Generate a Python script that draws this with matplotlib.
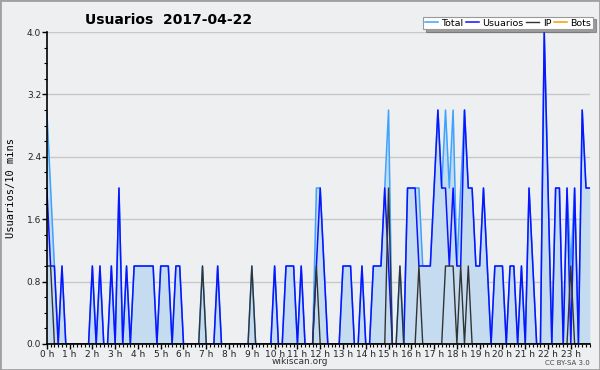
# Usuarios per 10 minutes, 2017-04-22 (wikiscan style chart)
import numpy as np
import matplotlib
matplotlib.use('Agg')
import matplotlib.pyplot as plt
from matplotlib.patches import Rectangle
from matplotlib.ticker import MultipleLocator

# Data: one value per 10 minutes (144 slots)
usuarios = [2, 1, 1, 0, 1, 0, 0, 0, 0, 0, 0, 0,
            1, 0, 1, 0, 0, 1, 0, 2, 0, 1, 0, 1,
            1, 1, 1, 1, 1, 0, 1, 1, 1, 0, 1, 1,
            0, 0, 0, 0, 0, 0, 0, 0, 0, 1, 0, 0,
            0, 0, 0, 0, 0, 0, 0, 0, 0, 0, 0, 0,
            1, 0, 0, 1, 1, 1, 0, 1, 0, 0, 0, 1,
            2, 1, 0, 0, 0, 0, 1, 1, 1, 0, 0, 1,
            0, 0, 1, 1, 1, 2, 1, 0, 0, 0, 0, 2,
            2, 2, 1, 1, 1, 1, 2, 3, 2, 2, 1, 2,
            1, 1, 3, 2, 2, 1, 1, 2, 1, 0, 1, 1,
            1, 0, 1, 1, 0, 1, 0, 2, 1, 0, 0, 4,
            2, 0, 2, 2, 0, 2, 0, 2, 0, 3, 2, 2]

ip = [0] * 144
for k, v in {0: 1, 1: 1, 41: 1, 54: 1, 71: 1, 90: 2, 93: 1, 98: 1,
             105: 1, 106: 1, 107: 1, 109: 1, 111: 1, 138: 1}.items():
    ip[k] = v

bots = [0] * 144

total = [u + p + b for u, p, b in zip(usuarios, ip, bots)]
total[111] = 2

hour_labels = ['%d h' % h for h in range(24)]

# Figure setup
fig = plt.figure(figsize=(6.0, 3.7), dpi=100, facecolor='#eeeff1')
ax = fig.add_axes([0.078, 0.0703, 0.905, 0.843])
ax.set_facecolor('#eeeff1')

x = np.arange(144) / 6.0

ax.fill_between(x, total, 0, color='#c5dcf0', zorder=1, linewidth=0)
ax.plot(x, bots, color='#ff9900', linewidth=1.1, zorder=2, label='Bots')
ax.plot(x, total, color='#3ea2ff', linewidth=1.1, zorder=3, label='Total')
ax.plot(x, usuarios, color='#0a14ff', linewidth=1.1, zorder=4, label='Usuarios')
ax.plot(x, ip, color='#333333', linewidth=1.0, zorder=5, label='IP')

ax.set_xlim(0, 143 / 6.0)
ax.set_ylim(0, 4.0)

# Axes and ticks
for s in ['top', 'right']:
    ax.spines[s].set_visible(False)
for s in ['left', 'bottom']:
    ax.spines[s].set_linewidth(1.2)
    ax.spines[s].set_zorder(6)

ax.set_yticks(np.arange(0, 4.01, 0.8))
ax.set_yticklabels(['%.1f' % v for v in np.arange(0, 4.01, 0.8)])
ax.yaxis.set_minor_locator(MultipleLocator(0.2))
ax.set_xticks(range(24))
ax.set_xticklabels(hour_labels)
ax.xaxis.set_minor_locator(MultipleLocator(1 / 6.0))
ax.tick_params(axis='both', which='major', labelsize=6.5, length=3.5,
               width=1, pad=0.5, colors='black', labelcolor='#222222')
ax.tick_params(axis='both', which='minor', length=2.5, width=0.8)

ax.yaxis.grid(True, color='#c8c8c8', linewidth=1)
ax.set_axisbelow(True)

ax.set_ylabel('Usuarios/10 mins', family='DejaVu Sans Mono', size=7.5, labelpad=8)

# Title and footer text
fig.text(0.142, 0.945, 'Usuarios  2017-04-22', size=10, weight='bold',
         ha='left', va='center')
fig.text(0.5, 0.022, 'wikiscan.org', size=6.5, ha='center', va='center',
         color='#333333')
fig.text(0.983, 0.02, 'CC BY-SA 3.0', size=5, ha='right', va='center',
         color='#444444')

# Legend
handles, labels = ax.get_legend_handles_labels()
order = ['Total', 'Usuarios', 'IP', 'Bots']
hmap = dict(zip(labels, handles))
leg = fig.legend([hmap[k] for k in order], order, ncol=4,
                 loc='upper right', bbox_to_anchor=(0.988, 0.955),
                 fontsize=6.8, frameon=True, fancybox=False, shadow=True,
                 handlelength=1.4, handletextpad=0.35, columnspacing=0.25,
                 borderpad=0.2, borderaxespad=0)
leg.get_frame().set_edgecolor('#999999')
leg.get_frame().set_linewidth(0.8)

# Outer border
fig.patches.append(Rectangle((0, 0), 1, 1, transform=fig.transFigure,
                             fill=False, edgecolor='#a0a0a0', linewidth=2))

plt.savefig('out.png', dpi=100, facecolor=fig.get_facecolor())
